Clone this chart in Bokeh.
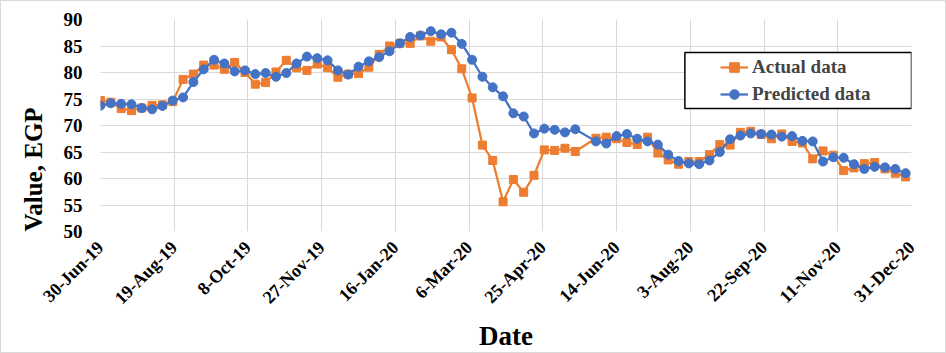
import math
import pandas as pd
from bokeh.plotting import figure
from bokeh.models import (ColumnDataSource, FixedTicker, Legend, LegendItem,
                          BoxAnnotation, Title, Range1d)
from bokeh.embed import file_html
from bokeh.resources import INLINE

# ---------------- data ----------------
dates = [
    "2019-06-30", "2019-07-07", "2019-07-14", "2019-07-21", "2019-07-28", "2019-08-04",
    "2019-08-11", "2019-08-18", "2019-08-25", "2019-09-01", "2019-09-08", "2019-09-15",
    "2019-09-22", "2019-09-29", "2019-10-06", "2019-10-13", "2019-10-20", "2019-10-27",
    "2019-11-03", "2019-11-10", "2019-11-17", "2019-11-24", "2019-12-01", "2019-12-08",
    "2019-12-15", "2019-12-22", "2019-12-29", "2020-01-05", "2020-01-12", "2020-01-19",
    "2020-01-26", "2020-02-02", "2020-02-09", "2020-02-16", "2020-02-23", "2020-03-01",
    "2020-03-08", "2020-03-15", "2020-03-22", "2020-03-29", "2020-04-05", "2020-04-12",
    "2020-04-19", "2020-04-26", "2020-05-03", "2020-05-10", "2020-05-17",
    "2020-05-31", "2020-06-07", "2020-06-14", "2020-06-21", "2020-06-28", "2020-07-05",
    "2020-07-12", "2020-07-19", "2020-07-26", "2020-08-02", "2020-08-09", "2020-08-16",
    "2020-08-23", "2020-08-30", "2020-09-06", "2020-09-13", "2020-09-20", "2020-09-27",
    "2020-10-04", "2020-10-11", "2020-10-18", "2020-10-25", "2020-11-01", "2020-11-08",
    "2020-11-15", "2020-11-22", "2020-11-29", "2020-12-06", "2020-12-13", "2020-12-20",
    "2020-12-27",
]

actual = [
    74.7, 74.4, 73.2, 72.8, 73.3, 73.8, 73.9, 74.5, 78.7, 79.7, 81.4, 81.4,
    80.6, 81.9, 80.0, 77.8, 78.1, 80.1, 82.3, 80.9, 80.4, 81.6, 80.9, 79.1,
    79.7, 79.8, 81.0, 83.4, 85.0, 85.5, 85.5, 86.9, 85.9, 86.7, 84.3, 80.7,
    75.2, 66.3, 63.4, 55.6, 59.8, 57.4, 60.6, 65.4, 65.3, 65.7, 65.1,
    67.6, 67.8, 67.5, 66.8, 66.4, 67.8, 64.8, 63.5, 62.7, 63.2, 63.2,
    64.5, 66.4, 66.3, 68.7, 68.9, 68.3, 67.5, 68.4, 67.0, 66.7, 63.7, 65.2,
    64.4, 61.5, 62.0, 62.8, 63.0, 61.8, 61.0, 60.3,
]

predicted = [
    73.75, 74.2, 74.1, 74.0, 73.3, 73.05, 73.7, 74.7, 75.3, 78.2, 80.6, 82.4,
    81.7, 80.2, 80.4, 79.7, 79.9, 79.2, 79.9, 81.7, 83.0, 82.7, 82.3, 80.4,
    79.6, 81.1, 82.1, 82.9, 84.0, 85.5, 86.7, 87.0, 87.8, 87.2, 87.5, 85.4,
    82.4, 79.2, 77.2, 75.5, 72.3, 71.7, 68.5, 69.4, 69.2, 68.7, 69.3,
    67.0, 66.6, 68.0, 68.4, 67.5, 67.0, 66.4, 64.5, 63.3, 62.85, 62.7,
    63.4, 65.0, 67.4, 68.1, 68.5, 68.4, 68.3, 67.9, 68.0, 67.1, 67.0, 63.2,
    64.0, 63.9, 62.7, 61.8, 62.2, 62.1, 61.8, 61.0,
]

tick_labels = ["30-Jun-19", "19-Aug-19", "8-Oct-19", "27-Nov-19", "16-Jan-20", "6-Mar-20",
               "25-Apr-20", "14-Jun-20", "3-Aug-20", "22-Sep-20", "11-Nov-20", "31-Dec-20"]
y_ticks = [50, 55, 60, 65, 70, 75, 80, 85, 90]

series_names = ["Actual data", "Predicted data"]

# ---------------- build ----------------
start = pd.to_datetime(tick_labels[0], format="%d-%b-%y")
days = [(pd.Timestamp(d) - start).days for d in dates]
tick_days = [(pd.to_datetime(t, format="%d-%b-%y") - start).days for t in tick_labels]

FONT = "Liberation Serif"
ORANGE = "#ED7D31"
BLUE = "#4472C4"

p = figure(width=946, height=353, output_backend="svg", toolbar_location=None,
           x_range=Range1d(tick_days[0], tick_days[-1]),
           y_range=Range1d(y_ticks[0], y_ticks[-1]),
           min_border_left=99, min_border_right=36, min_border_top=18, min_border_bottom=123)
p.outline_line_color = None
p.background_fill_color = "white"
p.border_fill_color = "white"

p.xaxis.ticker = FixedTicker(ticks=tick_days)
p.xaxis.major_label_overrides = {d: lab for d, lab in zip(tick_days, tick_labels)}
p.yaxis.ticker = FixedTicker(ticks=y_ticks)
p.xgrid.ticker = FixedTicker(ticks=tick_days)
p.ygrid.ticker = FixedTicker(ticks=y_ticks)
p.grid.grid_line_color = "#D9D9D9"
p.grid.grid_line_width = 1

for ax in (p.xaxis[0], p.yaxis[0]):
    ax.axis_line_color = None
    ax.major_tick_line_color = None
    ax.minor_tick_line_color = None
    ax.major_tick_out = 0
    ax.minor_tick_out = 0
    ax.major_label_text_font = FONT
    ax.major_label_text_font_style = "bold"
    ax.major_label_text_color = "black"

p.yaxis.major_label_text_font_size = "19px"
p.xaxis.major_label_text_font_size = "18px"
p.yaxis.major_label_standoff = 18
p.xaxis.major_label_standoff = 13
p.xaxis.major_label_orientation = math.pi / 4
p.xaxis.axis_label = "Date"
p.xaxis.axis_label_text_font = FONT
p.xaxis.axis_label_text_font_style = "bold"
p.xaxis.axis_label_text_font_size = "27px"
p.xaxis.axis_label_text_color = "black"
p.xaxis.axis_label_standoff = 3

src = ColumnDataSource(dict(x=days, actual=actual, predicted=predicted))
a_line = p.line("x", "actual", source=src, color=ORANGE, line_width=2.25)
a_mark = p.scatter("x", "actual", source=src, marker="square", size=8, color=ORANGE)
p_line = p.line("x", "predicted", source=src, color=BLUE, line_width=2.25)
p_mark = p.scatter("x", "predicted", source=src, marker="circle", size=9, color=BLUE)

# legend frame
box = BoxAnnotation(left=396.3, right=550, top=83.77, bottom=73.2,
                    fill_color="white", fill_alpha=1.0,
                    line_color="black", line_width=1.5, line_alpha=1.0)
p.add_layout(box)

legend = Legend(items=[LegendItem(label=series_names[0], renderers=[a_line, a_mark]),
                       LegendItem(label=series_names[1], renderers=[p_line, p_mark])],
                location=(617, 122), padding=3, spacing=3, glyph_width=28, glyph_height=24,
                label_height=24, label_standoff=4, label_text_font=FONT,
                label_text_font_style="bold", label_text_font_size="19px",
                border_line_alpha=0, background_fill_alpha=0)
p.add_layout(legend)

ytitle = Title(text="Value, EGP", align="left", text_font=FONT, text_font_style="bold",
               text_font_size="25px", text_color="black", standoff=28)
p.add_layout(ytitle, "left")

p.styles = {"border": "1px solid #D9D9D9", "box-sizing": "border-box"}

open("out.html", "w").write(file_html(p, INLINE))
